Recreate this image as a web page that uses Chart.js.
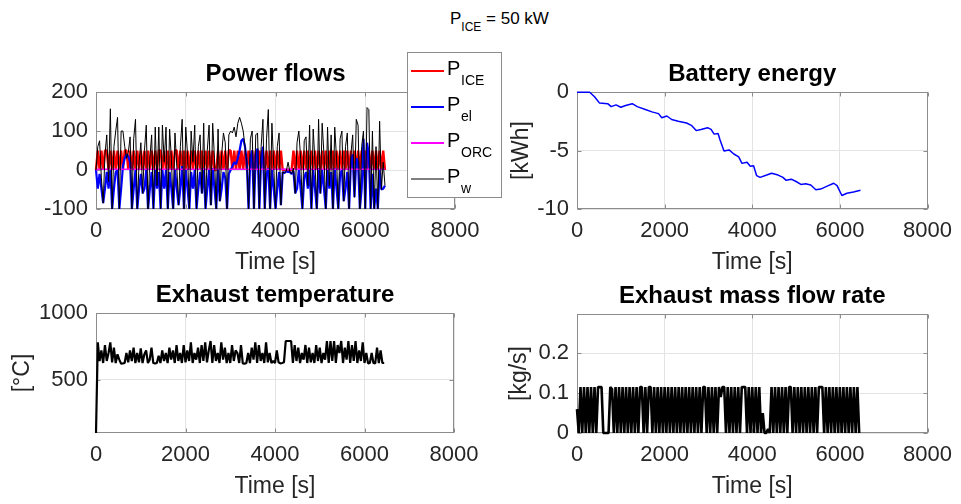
<!DOCTYPE html>
<html>
<head>
<meta charset="utf-8">
<title>P_ICE = 50 kW</title>
<script src="https://cdn.jsdelivr.net/npm/chart.js@4.4.1/dist/chart.umd.min.js"></script>
<style>
  html, body { margin: 0; padding: 0; background: #fff; }
  body { width: 961px; height: 504px; position: relative; overflow: hidden; font-family: "Liberation Sans", Arial, sans-serif; }
  canvas { position: absolute; left: 0; top: 0; }
  #suptitle { position: absolute; left: 450px; top: 10px; font-size: 17px; line-height: 17px; white-space: nowrap; color: #000; }
  #suptitle .sub { font-size: 12px; position: relative; top: 7px; }
</style>
</head>
<body>
<div id="suptitle">P<span class="sub">ICE</span> = 50 kW</div>
<canvas id="power-chart" width="961" height="504"></canvas>
<canvas id="battery-chart" width="961" height="504"></canvas>
<canvas id="temp-chart" width="961" height="504"></canvas>
<canvas id="flow-chart" width="961" height="504"></canvas>
<script>
// 軸の目盛り
const timeTicks = [0, 2000, 4000, 6000, 8000];
const powerTicks = [-100, 0, 100, 200];
const energyTicks = [-10, -5, 0];
const tempTicks = [500, 1000];
const flowTicks = [0, 0.1, 0.2];

// サンプル時刻 [s]
const sampleTime = [
  0,40,80,120,160,200,240,280,320,360,400,440,480,520,560,600,640,680,720,760,
  800,840,880,920,960,1000,1040,1080,1120,1160,1200,1240,1280,1320,1360,1400,1440,1480,1520,1560,
  1600,1640,1680,1720,1760,1800,1840,1880,1920,1960,2000,2040,2080,2120,2160,2200,2240,2280,2320,2360,
  2400,2440,2480,2520,2560,2600,2640,2680,2720,2760,2800,2840,2880,2920,2960,3000,3040,3080,3120,3160,
  3200,3240,3280,3320,3360,3400,3440,3480,3520,3560,3600,3640,3680,3720,3760,3800,3840,3880,3920,3960,
  4000,4040,4080,4120,4160,4200,4240,4280,4320,4360,4400,4440,4480,4520,4560,4600,4640,4680,4720,4760,
  4800,4840,4880,4920,4960,5000,5040,5080,5120,5160,5200,5240,5280,5320,5360,5400,5440,5480,5520,5560,
  5600,5640,5680,5720,5760,5800,5840,5880,5920,5960,6000,6040,6080,6120,6160,6200,6240,6280,6320,6360,
  6400,6440
];

// P_ICE [kW]
const powerIce = [
  0,50,0,50,0,50,50,0,50,0,50,0,50,0,50,0,50,50,0,50,
  0,50,0,50,0,50,0,50,0,50,0,50,0,50,0,50,50,0,50,0,
  50,0,50,0,50,50,0,50,0,50,0,50,0,50,0,50,0,50,0,50,
  0,50,0,50,0,50,0,0,50,0,50,0,50,0,50,50,0,50,0,50,
  0,50,0,50,0,50,0,50,0,50,0,50,0,50,0,50,0,50,0,50,
  0,50,0,50,0,0,0,0,0,0,50,0,50,0,50,0,50,0,50,0,
  50,0,50,0,50,0,50,0,50,0,50,0,50,0,50,0,50,0,50,0,
  50,0,50,0,50,0,50,0,50,0,50,0,50,0,50,0,50,0,50,0,
  50,0
];

// P_el [kW]
const powerEl = [
  0,-48,-10,-48,-85,-48,-5,-48,0,-100,-48,-5,0,-100,-48,10,30,40,35,20,
  -100,-48,0,-100,-48,-10,-60,-48,0,-100,-48,-5,-100,0,-48,-5,-100,0,-48,0,
  -100,-5,-48,-100,0,-48,-90,-48,10,-100,0,-48,-100,-5,-48,0,-100,-48,-5,-60,
  5,-100,-48,0,-90,5,-48,-100,0,-80,-48,-5,-20,-100,-10,0,10,20,15,30,
  50,75,80,60,20,-100,30,50,-100,40,55,-100,30,60,-100,-10,5,-100,0,-48,
  -100,-48,-5,-90,-5,-8,-3,-5,-5,-10,-3,-60,-48,0,-48,-100,-20,-5,-48,0,
  -100,0,-48,-100,5,-60,0,-48,-100,0,-48,-5,-100,5,-48,-100,-10,0,-80,-48,
  -5,-100,20,40,-70,30,20,-100,-48,80,-100,70,40,-100,-10,-100,-48,-100,0,-50,
  -48,-40
];

// P_ORC [kW]
const orcTime = [0, 40, 1600, 3200, 4800, 6440];
const powerOrc = [0, 2, 2, 2, 2, 2];

// P_w [kW]
const powerWheel = [
  0,60,75,-20,-85,40,90,-30,157,-100,60,100,135,-100,100,100,60,30,45,85,
  -100,80,130,-100,20,70,-60,50,115,-100,30,90,-100,110,-40,110,-100,115,20,110,
  -100,105,30,-100,95,10,-90,60,130,-100,110,40,-100,100,20,115,-100,60,90,-60,
  120,-100,50,115,-90,120,30,-100,105,-80,40,95,70,-100,90,100,95,110,85,120,
  135,120,100,60,20,-100,80,100,-100,90,95,-100,60,130,-100,80,155,-100,120,10,
  -100,60,95,-90,-5,-8,-3,20,-5,-10,5,-60,70,100,30,-100,75,85,-40,115,
  -100,105,20,-100,130,-60,120,40,-100,110,-40,90,-100,110,30,-100,80,100,-80,60,
  95,-100,40,90,-70,130,115,-100,60,100,-100,160,155,-100,100,-100,60,-100,125,-50,
  20,-40
];

// バッテリーエネルギー [kWh]
const batteryTime = [
  0,290,400,515,700,780,890,1000,1110,1260,1375,1560,1710,1860,1935,2050,2160,2310,2500,2610,
  2720,2830,2980,3060,3130,3220,3265,3355,3470,3580,3690,3765,3880,3955,4030,4100,4180,4330,4440,4590,
  4700,4775,4890,5000,5110,5220,5335,5450,5560,5710,5860,5935,6045,6160,6310,6470
];
const batteryEnergy = [
  -0.02,-0.02,-0.4,-0.95,-1.0,-1.25,-1.1,-1.3,-1.15,-1.0,-1.25,-1.5,-1.7,-1.85,-2.2,-2.05,-2.35,-2.5,-2.65,-2.85,
  -3.3,-3.2,-3.05,-3.2,-3.6,-3.55,-4.1,-5.05,-4.95,-5.3,-5.55,-6.1,-6.0,-6.35,-6.3,-7.15,-7.3,-7.1,-6.95,-7.1,
  -7.3,-7.55,-7.45,-7.65,-7.9,-7.85,-7.95,-8.35,-8.3,-8.05,-7.8,-8.0,-8.85,-8.65,-8.55,-8.4
];

// 排気温度 [°C]
const exhaustTemp = [
  100,780,640,720,625,760,640,700,780,630,740,625,690,650,620,622,625,700,630,720,
  640,740,625,700,630,735,625,690,720,625,650,740,625,622,625,680,625,720,640,700,
  625,740,650,720,625,760,640,700,625,760,630,720,640,780,625,700,650,740,625,760,
  640,780,630,720,790,625,760,640,700,625,780,650,740,625,700,625,760,640,720,700,
  625,760,622,620,625,700,625,740,650,780,625,760,640,700,625,780,630,700,625,640,
  625,720,630,622,625,630,790,790,790,790,625,760,640,740,625,700,650,760,625,740,
  630,700,625,760,640,740,625,700,650,790,625,790,640,790,625,760,700,790,625,740,
  650,790,625,760,640,790,625,720,640,780,625,700,622,625,700,625,622,740,625,720,
  625,625
];

// 排気質量流量 [kg/s]
const exhaustFlow = [
  0.06,0,0.115,0,0.115,0,0.115,0,0.115,0,0.115,0,0.115,0.115,0.115,0,0,0,0,0.115,
  0.11,0,0.115,0,0.115,0,0.115,0,0.115,0,0.115,0,0.115,0,0.115,0,0.115,0.115,0,0.115,
  0,0.115,0.115,0,0.115,0,0.115,0,0.115,0,0.115,0,0.115,0,0.115,0,0.115,0,0.115,0,
  0.115,0,0.115,0,0.115,0,0.115,0,0.115,0,0.115,0,0.115,0.115,0,0.115,0,0.115,0,0.115,
  0,0.115,0.09,0.115,0.115,0,0.115,0,0.115,0,0.115,0,0.115,0,0.115,0.115,0.115,0,0.115,0,
  0.115,0,0.115,0,0.115,0,0.05,0,0,0.01,0,0.115,0,0.115,0,0.115,0,0.115,0,0.115,
  0,0.115,0.115,0,0.115,0,0.115,0,0.115,0,0.115,0,0.115,0,0.115,0,0.115,0,0.115,0.115,
  0.115,0,0.115,0,0.115,0,0.115,0,0.115,0,0.115,0,0.115,0,0.115,0,0.115,0,0.115,0,
  0.115,0
];

const fontFamily = '"Liberation Sans", Arial, Helvetica, sans-serif';
const tickFont = { family: fontFamily, size: 22 };
const labelFont = { family: fontFamily, size: 23 };
const titleFont = { family: fontFamily, size: 24, weight: 'bold' };
const textColor = '#262626';
const gridColor = '#e3e3e3';
const boxColor = '#8c8c8c';
const legendSubs = ['ICE', 'el', 'ORC', 'w'];

// 時刻と値の配列から点列を作る
function toPoints(xs, ys) {
  return xs.map((x, i) => ({ x, y: ys[i] }));
}

// 軸の枠と内向きの目盛りを描くプラグイン(データの下に描く)
const axesBox = {
  id: 'axesBox',
  beforeDatasetsDraw(chart) {
    const { ctx, chartArea: a, scales } = chart;
    const l = Math.round(a.left) + 0.5, r = Math.round(a.right) - 0.5;
    const t = Math.round(a.top) + 0.5, b = Math.round(a.bottom) - 0.5;
    ctx.save();
    ctx.strokeStyle = boxColor;
    ctx.lineWidth = 1;
    ctx.strokeRect(l, t, r - l, b - t);
    ctx.beginPath();
    scales.x.ticks.forEach((tk) => {
      const px = Math.round(scales.x.getPixelForValue(tk.value)) + 0.5;
      ctx.moveTo(px, b); ctx.lineTo(px, b - 4);
      ctx.moveTo(px, t); ctx.lineTo(px, t + 4);
    });
    scales.y.ticks.forEach((tk) => {
      const py = Math.round(scales.y.getPixelForValue(tk.value)) + 0.5;
      ctx.moveTo(l, py); ctx.lineTo(l + 4, py);
      ctx.moveTo(r, py); ctx.lineTo(r - 4, py);
    });
    ctx.stroke();
    ctx.restore();
  },
};

// 添字付きの凡例を描くプラグイン
const powerLegend = {
  id: 'powerLegend',
  afterDraw(chart) {
    const ctx = chart.ctx;
    ctx.save();
    ctx.fillStyle = '#ffffff';
    ctx.fillRect(407, 52, 95, 146);
    ctx.strokeStyle = boxColor;
    ctx.lineWidth = 1;
    ctx.strokeRect(407.5, 52.5, 94, 145);
    chart.data.datasets.forEach((ds, i) => {
      const y = 71 + i * 36;
      ctx.strokeStyle = ds.borderColor;
      ctx.lineWidth = i === 3 ? 1 : 1.8;
      ctx.beginPath();
      ctx.moveTo(411, y);
      ctx.lineTo(444, y);
      ctx.stroke();
      ctx.fillStyle = '#000';
      ctx.textBaseline = 'alphabetic';
      ctx.font = `20px ${fontFamily}`;
      ctx.fillText('P', 447, y + 4);
      ctx.font = `14px ${fontFamily}`;
      ctx.fillText(legendSubs[i], 461, y + 14);
    });
    ctx.restore();
  },
};

function timeAxis() {
  return {
    type: 'linear',
    min: 0,
    max: 8000,
    afterBuildTicks: (s) => { s.ticks = timeTicks.map((v) => ({ value: v })); },
    afterFit: (s) => { s.height = 67; },
    ticks: { font: tickFont, color: textColor, padding: 9, maxRotation: 0, autoSkip: false, callback: (v) => String(v) },
    grid: { color: gridColor, drawTicks: false },
    border: { display: false },
    title: { display: true, text: 'Time [s]', font: labelFont, color: textColor, padding: 0 },
  };
}

function valueAxis(min, max, tickValues, width, title) {
  return {
    min,
    max,
    afterBuildTicks: (s) => { s.ticks = tickValues.map((v) => ({ value: v })); },
    afterFit: (s) => { s.width = width; },
    ticks: { font: tickFont, color: textColor, padding: 8, autoSkip: false, callback: (v) => String(v) },
    grid: { color: gridColor, drawTicks: false },
    border: { display: false },
    title: { display: !!title, text: title || '', font: labelFont, color: textColor, padding: 0 },
  };
}

function lineSet(label, points, color, width, order) {
  return {
    label, data: points, borderColor: color, borderWidth: width, order,
    pointRadius: 0, tension: 0, fill: false, clip: 3, borderJoinStyle: 'bevel',
  };
}

function makeChart(id, datasets, yAxis, titleText, padding, extra) {
  return new Chart(document.getElementById(id), {
    type: 'line',
    data: { datasets },
    options: {
      responsive: false,
      animation: false,
      devicePixelRatio: 1,
      layout: { padding },
      scales: { x: timeAxis(), y: yAxis },
      plugins: {
        legend: { display: false },
        tooltip: { enabled: false },
        title: { display: true, text: titleText, font: titleFont, color: '#000', fullSize: false, padding: { top: 0, bottom: 3 } },
      },
    },
    plugins: [axesBox, ...extra],
  });
}

window.addEventListener('DOMContentLoaded', () => {
  makeChart('power-chart', [
    lineSet('P_ICE', toPoints(sampleTime, powerIce), '#ff0000', 2.4, 3),
    lineSet('P_el', toPoints(sampleTime, powerEl), '#0000ff', 2.2, 2),
    lineSet('P_ORC', toPoints(orcTime, powerOrc), '#ff00ff', 1.5, 1),
    lineSet('P_w', toPoints(sampleTime, powerWheel), '#000000', 1.0, 0),
  ], valueAxis(-100, 200, powerTicks, 60, ''), 'Power flows',
  { left: 36, top: 60.2, right: 506, bottom: 228 }, [powerLegend]);

  makeChart('battery-chart', [
    lineSet('E_bat', toPoints(batteryTime, batteryEnergy), '#0000ff', 1.5, 0),
  ], valueAxis(-10, 0, energyTicks, 69, '[kWh]'), 'Battery energy',
  { left: 508, top: 60.2, right: 27, bottom: 228 }, []);

  makeChart('temp-chart', [
    lineSet('T_exh', toPoints(sampleTime, exhaustTemp), '#000000', 2.2, 0),
  ], valueAxis(100, 1000, tempTicks, 87, '[°C]'), 'Exhaust temperature',
  { left: 9, top: 281.2, right: 507, bottom: 4 }, []);

  makeChart('flow-chart', [
    lineSet('m_exh', toPoints(sampleTime, exhaustFlow), '#000000', 2.6, 0),
  ], valueAxis(0, 0.298, flowTicks, 71, '[kg/s]'), 'Exhaust mass flow rate',
  { left: 506, top: 282.2, right: 27, bottom: 4 }, []);
});
</script>
</body>
</html>
